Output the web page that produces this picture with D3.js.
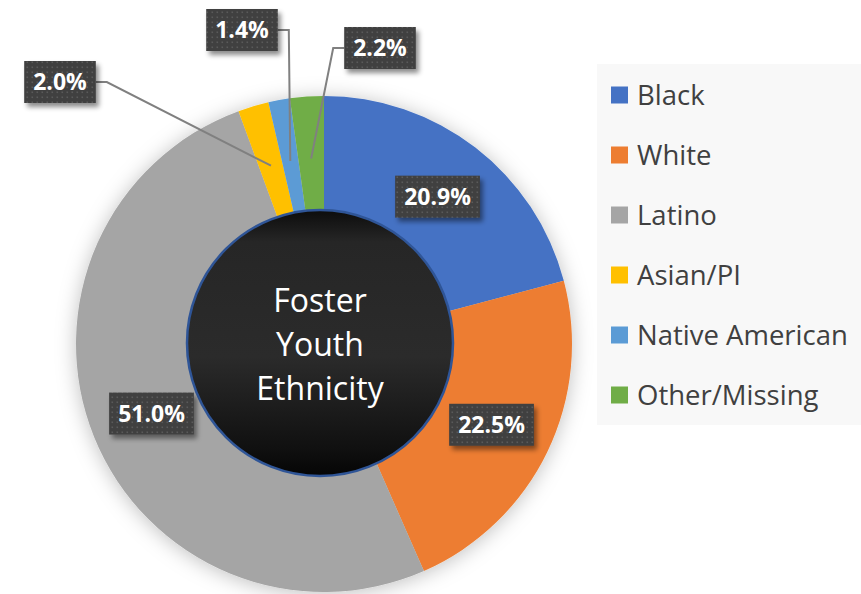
<!DOCTYPE html>
<html>
<head>
<meta charset="utf-8">
<script src="https://cdn.jsdelivr.net/npm/d3@7"></script>
<style>
  body { margin: 0; background: #fff; }
  text { font-family: "Open Sans", "Noto Sans", sans-serif; }
</style>
</head>
<body>
<div id="viz"></div>
<script>
// chart data
var categories = ['Black', 'White', 'Latino', 'Asian/PI', 'Native American', 'Other/Missing'];
var values = [20.9, 22.5, 51.0, 2.0, 1.4, 2.2];
var colors = ['#4472C4', '#ED7D31', '#A5A5A5', '#FFC000', '#5B9BD5', '#70AD47'];
var centerLines = ['Foster', 'Youth', 'Ethnicity'];

// layout
var width = 861, height = 594;
var cx = 324, cy = 344;
var outerR = 248, innerR = 120;
var labelR = 186;
// callout boxes for the thin slices (box centre, side the leader leaves from)
var callouts = {
  3: { x: 60, y: 82, side: 'right' },
  4: { x: 242, y: 30, side: 'right' },
  5: { x: 380, y: 48, side: 'left' }
};

var svg = d3.select('#viz').append('svg')
  .attr('width', width)
  .attr('height', height);

var defs = svg.append('defs');

// dotted fill used by the label boxes
var pat = defs.append('pattern')
  .attr('id', 'dots')
  .attr('patternUnits', 'userSpaceOnUse')
  .attr('width', 5).attr('height', 5);
pat.append('rect').attr('width', 5).attr('height', 5).attr('fill', '#3f3f3f');
pat.append('rect').attr('x', 1.5).attr('y', 1.5).attr('width', 1.6).attr('height', 1.6).attr('fill', '#5a5a5a');

defs.append('filter').attr('id', 'ringShadow')
  .attr('x', '-20%').attr('y', '-20%').attr('width', '140%').attr('height', '140%')
  .append('feDropShadow')
  .attr('dx', 0).attr('dy', 2).attr('stdDeviation', 10)
  .attr('flood-color', '#000').attr('flood-opacity', 0.25);

defs.append('filter').attr('id', 'boxShadow')
  .attr('x', '-30%').attr('y', '-30%').attr('width', '160%').attr('height', '170%')
  .append('feDropShadow')
  .attr('dx', 3).attr('dy', 4).attr('stdDeviation', 2.5)
  .attr('flood-color', '#000').attr('flood-opacity', 0.45);

var grad = defs.append('linearGradient')
  .attr('id', 'holeGrad')
  .attr('x1', 0).attr('y1', 0).attr('x2', 0).attr('y2', 1);
grad.append('stop').attr('offset', '0%').attr('stop-color', '#0c0c0c');
grad.append('stop').attr('offset', '12%').attr('stop-color', '#262626');
grad.append('stop').attr('offset', '55%').attr('stop-color', '#2b2b2b');
grad.append('stop').attr('offset', '90%').attr('stop-color', '#101010');
grad.append('stop').attr('offset', '100%').attr('stop-color', '#050505');

// legend background
svg.append('rect')
  .attr('x', 597).attr('y', 64)
  .attr('width', 264).attr('height', 361)
  .attr('fill', '#f8f8f8');

// donut
var pie = d3.pie().sort(null).value(function (d) { return d; });
var arcs = pie(values);
var arc = d3.arc().innerRadius(innerR).outerRadius(outerR);
var labelArc = d3.arc().innerRadius(labelR).outerRadius(labelR);

var donut = svg.append('g')
  .attr('transform', 'translate(' + cx + ',' + cy + ')');

donut.append('g')
  .attr('filter', 'url(#ringShadow)')
  .selectAll('path')
  .data(arcs)
  .enter()
  .append('path')
  .attr('d', arc)
  .attr('fill', function (d, i) { return colors[i]; });

// dark centre disc
svg.append('circle')
  .attr('cx', cx - 4).attr('cy', cy - 1)
  .attr('r', 133)
  .attr('fill', 'url(#holeGrad)')
  .attr('stroke', '#2f5597')
  .attr('stroke-width', 2.5);

svg.append('text')
  .attr('x', cx - 4)
  .attr('text-anchor', 'middle')
  .attr('fill', '#fff')
  .attr('font-size', 32)
  .selectAll('tspan')
  .data(centerLines)
  .enter()
  .append('tspan')
  .attr('x', cx - 4)
  .attr('y', function (d, i) { return 312 + i * 44; })
  .text(function (d) { return d; });

// data labels
var fmt = d3.format('.1f');
var labels = svg.append('g').attr('class', 'labels');

arcs.forEach(function (d, i) {
  var anchor = labelArc.centroid(d);
  var ax = cx + anchor[0], ay = cy + anchor[1];
  var c = callouts[i];
  var bx = c ? c.x : ax, by = c ? c.y : ay;

  var g = labels.append('g');
  var t = g.append('text')
    .attr('x', bx).attr('y', by)
    .attr('dy', '0.36em')
    .attr('text-anchor', 'middle')
    .attr('font-size', 23)
    .attr('font-weight', 'bold')
    .attr('fill', '#fff')
    .text(fmt(values[i]) + '%');
  var w = t.node().getComputedTextLength() + 18;
  var h = 42;

  g.insert('rect', 'text')
    .attr('x', bx - w / 2).attr('y', by - h / 2)
    .attr('width', w).attr('height', h)
    .attr('fill', 'url(#dots)')
    .attr('filter', 'url(#boxShadow)');

  if (c) {
    var ex = c.side === 'right' ? bx + w / 2 : bx - w / 2;
    var kx = c.side === 'right' ? ex + 11 : ex - 11;
    labels.insert('polyline', 'g')
      .attr('points', [[ex, by], [kx, by], [ax, ay]].map(function (p) { return p.join(','); }).join(' '))
      .attr('fill', 'none')
      .attr('stroke', '#808080')
      .attr('stroke-width', 2);
  }
});

// legend
var legend = svg.append('g')
  .attr('transform', 'translate(611,95)');

var item = legend.selectAll('.item')
  .data(categories)
  .enter()
  .append('g')
  .attr('class', 'item')
  .attr('transform', function (d, i) { return 'translate(0,' + (i * 60) + ')'; });

item.append('rect')
  .attr('x', 0).attr('y', -8.5)
  .attr('width', 17).attr('height', 17)
  .attr('fill', function (d, i) { return colors[i]; });

item.append('text')
  .attr('x', 26)
  .attr('dy', '0.36em')
  .attr('font-size', 27.5)
  .attr('fill', '#404040')
  .text(function (d) { return d; });
</script>
</body>
</html>
